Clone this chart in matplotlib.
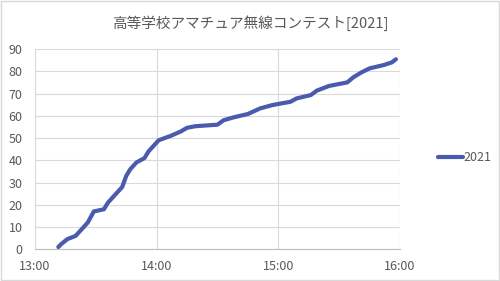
# 高等学校アマチュア無線コンテスト 2021 - cumulative count vs time
import pandas as pd
import matplotlib.pyplot as plt
import matplotlib.dates as mdates
from matplotlib.patches import Rectangle

plt.rcParams['font.family'] = ['Noto Sans CJK JP', 'DejaVu Sans']

times = ['13:11:30', '13:13', '13:16', '13:20', '13:22', '13:26', '13:29', '13:34',
         '13:36', '13:39', '13:43', '13:45', '13:47', '13:50', '13:54', '13:56',
         '13:59', '14:01', '14:04', '14:07', '14:12', '14:15', '14:19', '14:30',
         '14:33', '14:38', '14:45', '14:51', '14:57', '15:06', '15:09', '15:16',
         '15:19', '15:25', '15:34', '15:37', '15:41', '15:45', '15:52', '15:56',
         '15:58']
counts = [1, 2.4, 4.6, 6, 8, 12, 17, 18,
          21, 24, 28, 33, 36, 39, 41, 44,
          47, 49, 50, 51, 53, 54.6, 55.3, 56,
          58, 59.3, 60.8, 63.3, 64.8, 66.3, 67.8, 69.3,
          71.3, 73.4, 75, 77.3, 79.5, 81.3, 82.8, 84,
          85.4]
series_name = '2021'
title = '高等学校アマチュア無線コンテスト[2021]'

t = pd.to_datetime(['2021-01-01 ' + (s if s.count(':') == 2 else s + ':00') for s in times])

fig = plt.figure(figsize=(5, 2.81), dpi=100)
ax = fig.add_axes([0.07, 0.1128, 0.73, 0.7128])

line_col = '#4A5AAE'
ax.plot(t, counts, color=line_col, lw=3.0, solid_capstyle='round',
        solid_joinstyle='round', label=series_name)

ax.set_xlim(pd.Timestamp('2021-01-01 13:00'), pd.Timestamp('2021-01-01 16:00'))
ax.set_ylim(0, 90)
ax.set_yticks(range(0, 91, 10))
ax.xaxis.set_major_locator(mdates.HourLocator())
ax.xaxis.set_major_formatter(mdates.DateFormatter('%H:%M'))

ax.grid(True, color='#D9D9D9', lw=0.8)
ax.set_axisbelow(True)
for side in ['top', 'right', 'left']:
    ax.spines[side].set_visible(False)
ax.spines['bottom'].set_color('#BFBFBF')
ax.tick_params(length=0, labelsize=9, labelcolor='#595959')
ax.tick_params(axis='y', pad=9)
ax.tick_params(axis='x', pad=8)

fig.text(0.5, 0.918, title, ha='center', va='center', fontsize=10.5, color='#595959')

fig.legend(loc='center left', bbox_to_anchor=(0.864, 0.438), frameon=False,
           fontsize=9, handlelength=2.0, handletextpad=0.05, borderpad=0,
           labelcolor='#595959')

fig.add_artist(Rectangle((0.002, 0.003), 0.996, 0.994, transform=fig.transFigure,
                         fill=False, edgecolor='#D9D9D9', lw=1))

fig.savefig('out.png', dpi=100)
